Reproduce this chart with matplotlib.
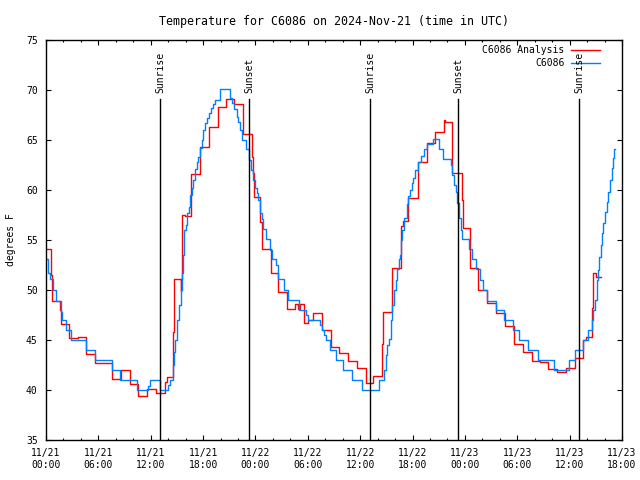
import matplotlib
matplotlib.use('Agg')
import matplotlib.pyplot as plt
from matplotlib.ticker import MultipleLocator

# hours since 2024-11-21 00:00 UTC
red_h = [0, 0.61, 0.72, 1.60, 1.75, 2.64, 3.70, 4.62, 5.61, 7.60, 8.63, 9.63, 10.58, 11.61,
         12.64, 13.64, 13.90, 14.59, 14.70, 15.43, 15.50, 15.62, 15.93, 16.62, 17.65, 18.71,
         19.67, 20.63, 21.54, 22.61, 23.57, 23.72, 23.87, 24.52, 24.72, 25.75, 26.62, 27.58,
         28.53, 28.84, 29.11, 29.60, 30.06, 30.63, 31.59, 32.66, 33.61, 34.57, 35.60, 36.63,
         37.50, 38.54, 38.65, 39.61, 39.68, 40.64, 40.94, 41.51, 42.66, 43.62, 44.57, 45.61,
         45.72, 46.56, 47.63, 47.82, 48.58, 49.54, 50.50, 51.53, 52.60, 53.66, 54.62, 55.65,
         56.60, 57.56, 58.59, 59.59, 60.62, 61.57, 61.84, 62.53, 62.71, 63.02, 63.56]
red_t = [54.1, 51.5, 48.9, 48.0, 46.6, 45.2, 45.3, 43.6, 42.7, 41.1, 42.0, 40.6, 39.4, 40.1,
         39.7, 40.8, 41.3, 45.8, 51.1, 49.9, 51.1, 57.5, 57.4, 61.6, 64.3, 66.3,
         68.3, 69.1, 68.6, 65.6, 63.3, 61.7, 59.3, 56.8, 54.1, 51.7, 49.8, 48.1,
         48.6, 48.1, 48.6, 46.7, 47.0, 47.7, 46.0, 44.3, 43.7, 42.9, 42.2, 40.7,
         41.4, 44.6, 47.8, 49.9, 52.2, 56.4, 56.9, 59.2, 62.8, 64.7, 65.8, 67.0,
         66.8, 61.7, 59.0, 56.2, 52.2, 50.0, 48.7, 47.7, 46.4, 44.6, 43.8, 42.9,
         42.8, 42.1, 41.8, 42.2, 43.2, 45.0, 45.3, 48.2, 51.7, 51.3, 51.3]

blue_h = [0, 0.26, 0.42, 0.80, 1.11, 1.68, 1.87, 2.26, 2.83, 4.55, 5.61, 7.60, 8.48, 10.46,
          11.72, 11.92, 13.03, 14.01, 14.21, 14.52, 14.67, 14.82, 15.05, 15.24, 15.43, 15.58,
          15.73, 15.85, 16.04, 16.19, 16.39, 16.50, 16.70, 16.88, 17.07, 17.27, 17.45, 17.65,
          17.84, 18.02, 18.22, 18.41, 18.71, 18.91, 19.10, 19.37, 19.94, 21.08, 21.28, 21.54,
          21.85, 22.04, 22.23, 22.49, 22.92, 23.26, 23.46, 23.69, 23.95, 24.14, 24.33, 24.52,
          24.72, 24.90, 25.21, 25.67, 25.86, 26.32, 26.62, 27.27, 27.76, 28.99, 29.79, 30.06,
          31.40, 31.66, 31.89, 32.08, 32.54, 33.23, 34.00, 35.03, 36.18, 38.19, 38.73, 38.93,
          39.11, 39.34, 39.50, 39.68, 39.88, 40.11, 40.25, 40.45, 40.56, 40.68, 40.83, 41.06,
          41.33, 41.51, 41.71, 41.90, 42.09, 42.28, 42.66, 42.97, 43.35, 43.69, 44.38, 45.03,
          45.53, 46.37, 46.56, 46.75, 46.95, 47.13, 47.32, 47.52, 47.70, 48.47, 48.78, 49.24,
          49.73, 50.11, 50.57, 51.53, 52.48, 53.55, 54.23, 55.20, 56.41, 58.21, 59.96, 60.62,
          61.57, 62.14, 62.53, 62.71, 62.91, 63.10, 63.17, 63.29, 63.40, 63.56, 63.68, 63.86,
          64.05, 64.25, 64.43, 64.63, 64.82, 65.01, 65.12, 65.20]
blue_t = [53.1, 51.7, 51.1, 50.0, 48.9, 47.8, 47.0, 46.0, 45.0, 44.0, 43.0, 42.0, 41.0, 40.0,
          40.4, 41.0, 40.0, 40.5, 41.0, 42.5, 43.8, 45.0, 47.0, 48.5, 50.0, 51.7,
          53.5, 56.0, 56.5, 57.7, 58.3, 59.5, 60.2, 61.0, 62.1, 62.8, 63.3, 64.2,
          65.0, 66.0, 66.7, 67.2, 67.7, 68.2, 68.6, 69.0, 70.1, 69.2, 68.7, 68.1,
          67.3, 66.8, 66.0, 65.0, 64.1, 63.0, 62.0, 61.0, 60.2, 59.7, 59.0, 57.7,
          57.1, 56.1, 55.1, 54.0, 53.1, 52.5, 51.1, 50.0, 49.0, 48.0, 47.5, 47.0,
          46.5, 46.0, 45.5, 45.0, 44.0, 43.0, 42.0, 41.0, 40.0, 41.0, 42.0, 43.5,
          44.5, 45.1, 47.0, 48.5, 50.0, 51.0, 52.1, 53.1, 53.5, 55.0, 56.0, 57.2,
          58.6, 59.4, 60.0, 60.7, 61.2, 62.0, 62.8, 63.4, 64.1, 64.6, 65.1, 64.1,
          63.1, 62.5, 61.5, 60.5, 59.8, 58.7, 57.2, 56.0, 55.1, 54.1, 53.1, 52.1,
          51.0, 50.0, 48.9, 48.0, 47.0, 46.0, 45.0, 44.0, 43.0, 42.0, 43.0, 44.0,
          45.0, 46.0, 47.0, 48.0, 49.0, 50.0, 51.0, 52.0, 53.3, 54.5, 55.7, 56.7,
          57.8, 58.8, 59.8, 61.0, 62.2, 63.2, 64.1, 64.1]

sun_h = [13.10, 23.30, 37.16, 47.25, 61.11]
sun_lbl = ['Sunrise', 'Sunset', 'Sunrise', 'Sunset', 'Sunrise']

xtick_h = [0, 6, 12, 18, 24, 30, 36, 42, 48, 54, 60, 66]
xtick_lbl = ['11/21\n00:00', '11/21\n06:00', '11/21\n12:00', '11/21\n18:00',
             '11/22\n00:00', '11/22\n06:00', '11/22\n12:00', '11/22\n18:00',
             '11/23\n00:00', '11/23\n06:00', '11/23\n12:00', '11/23\n18:00']
yticks = [35, 40, 45, 50, 55, 60, 65, 70, 75]

plt.rcParams['font.family'] = 'DejaVu Sans Mono'
plt.rcParams['font.size'] = 7

fig = plt.figure(figsize=(6.4, 4.8), dpi=100)
ax = fig.add_axes([46/640, 40/480, 576/640, 400/480])

ax.plot(red_h, red_t, color='#ff0000', lw=1.0, drawstyle='steps-post')
ax.plot(blue_h, blue_t, color='#0080ff', lw=1.0, drawstyle='steps-post')

# sunrise / sunset markers
for h, lbl in zip(sun_h, sun_lbl):
    ax.plot([h, h], [35, 69.1], color='black', lw=1.0)
    ax.text(h, 69.7, lbl, rotation=90, ha='center', va='bottom')

ax.set_xlim(0, 66)
ax.set_ylim(35, 75)
ax.set_xticks(xtick_h)
ax.set_xticklabels(xtick_lbl)
ax.set_yticks(yticks)
ax.xaxis.set_minor_locator(MultipleLocator(2))
ax.tick_params(which='both', direction='in', top=True, right=True, width=0.8)
ax.tick_params(which='major', length=3.4, pad=6)
ax.tick_params(which='minor', length=1.7)
for s in ax.spines.values():
    s.set_linewidth(1.0)

ax.set_title('Temperature for C6086 on 2024-Nov-21 (time in UTC)', pad=11)
ax.set_ylabel('degrees F', labelpad=7)

# gnuplot-like legend: text right aligned, sample line after it
ax.text(0.9, 0.975, 'C6086 Analysis', transform=ax.transAxes, ha='right', va='center')
ax.plot([0.9106, 0.9618], [0.975, 0.975], transform=ax.transAxes, color='#ff0000', lw=1.0)
ax.text(0.9, 0.9425, 'C6086', transform=ax.transAxes, ha='right', va='center')
ax.plot([0.9106, 0.9618], [0.9425, 0.9425], transform=ax.transAxes, color='#0080ff', lw=1.0)

fig.savefig('out.png', dpi=100)
